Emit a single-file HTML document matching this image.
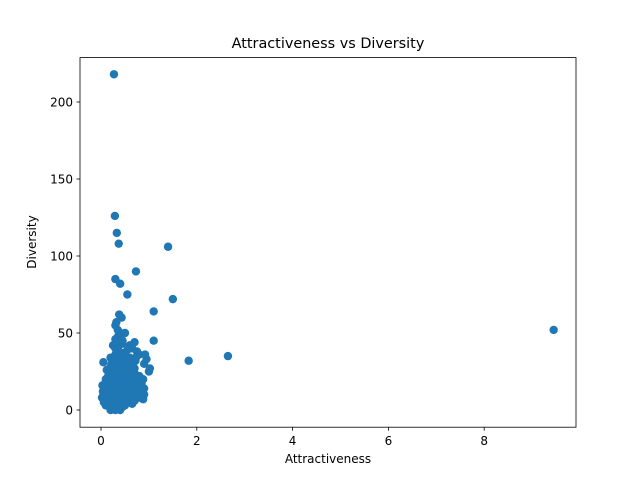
<!DOCTYPE html>
<html><head><meta charset="utf-8"><style>
body{margin:0;background:#fff;font-family:"Liberation Sans","DejaVu Sans",sans-serif}
svg text{font-family:"DejaVu Sans","Liberation Sans",sans-serif;font-size:12px;fill:#000}
</style></head><body>
<svg id="chart" width="640" height="480">
<rect width="640" height="480" fill="#fff"/>
<text x="328" y="48" text-anchor="middle" style="font-size:14.4px">Attractiveness vs Diversity</text>
<g id="marks"></g>
<rect x="80" y="57.6" width="496" height="369.6" fill="none" stroke="#000" stroke-width="0.8"/>
<g id="xt"></g>
<g id="yt"></g>
<text x="328" y="463" text-anchor="middle">Attractiveness</text>
<text transform="translate(36,242) rotate(-90)" text-anchor="middle">Diversity</text>
</svg>
<script>
const attractiveness=[0.27,0.29,0.33,0.37,1.4,0.3,0.4,0.73,0.55,1.5,1.1,0.38,0.43,1.1,1.83,2.65,9.45,0.05,
0.3,0.35,0.32,0.4,0.36,0.45,0.5,0.6,0.65,0.7,0.75,0.8,0.9,0.95,0.92,1.0,1.02,0.88,0.85,
0.02,0.04,0.06,0.08,0.1,0.12,0.15,0.18,0.2,0.22,0.25,0.28,0.3,0.33,0.36,0.4,0.45,0.5,0.55,0.6,0.65,0.7,0.75,0.8,0.85,
0.03,0.07,0.1,0.14,0.18,0.22,0.26,0.3,0.34,0.38,0.42,0.46,0.5,0.54,0.58,0.62,0.66,0.7,0.78,
0.12,0.16,0.2,0.24,0.28,0.32,0.36,0.4,0.44,0.48,0.52,0.56,0.6,0.64,0.68,0.72,0.8,0.9,
0.2,0.25,0.3,0.35,0.4,0.45,0.5,0.55,0.6,0.65,0.7,0.75,
0.25,0.3,0.35,0.4,0.45,0.5,0.55,0.6,0.65,0.68,0.28,0.34,0.42,0.48,0.3,0.36,0.44,0.2,0.5,0.62,
0.05,0.1,0.15,0.2,0.25,0.3,0.35,0.4,0.45,0.5,0.55,0.6,0.65,0.7,0.75,0.8,0.85,0.9,
0.08,0.13,0.18,0.23,0.28,0.33,0.38,0.43,0.48,0.53,0.58,0.63,0.68,0.73,0.78,0.83,
0.1,0.15,0.2,0.25,0.3,0.35,0.4,0.45,0.5,0.55,0.6,0.65,0.7,0.75,0.8,0.88,
0.22,0.27,0.32,0.37,0.42,0.47,0.52,0.57,0.62,0.67,0.72,0.22,0.3,0.38,0.46,0.54,0.62,0.7,0.78];
const diversity=[218,126,115,108,106,85,82,90,75,72,64,62,60,45,32,35,52,31,
55,52,57,50,48,45,50,42,40,44,38,36,30,33,36,25,27,7,18,
8,12,5,15,3,10,6,2,0,4,8,1,0,3,6,0,2,5,9,7,4,10,12,8,14,
16,6,18,13,20,14,22,11,17,24,15,19,21,16,13,18,15,20,16,
26,23,28,25,30,27,32,26,29,23,25,28,22,24,20,18,17,10,
34,32,36,38,35,33,30,28,33,31,27,35,
42,40,38,44,37,36,39,34,30,25,15,12,9,7,46,41,43,22,20,11,
10,8,12,7,9,5,4,6,8,3,11,13,9,6,10,12,9,14,
14,18,16,12,20,18,14,22,17,20,16,19,13,15,17,12,
20,22,19,24,21,26,28,25,23,20,22,26,24,21,22,20,
30,28,29,31,32,27,29,31,30,29,32,18,16,24,12,16,18,22,14];
const X=v=>101+v*47.9, Y=v=>410-v*1.54;
const NS="http://www.w3.org/2000/svg";
const g=document.getElementById('marks');
attractiveness.forEach((a,i)=>{const c=document.createElementNS(NS,'circle');
c.setAttribute('cx',X(a));c.setAttribute('cy',Y(diversity[i]));c.setAttribute('r',4.2);c.setAttribute('fill','#1f77b4');


g.appendChild(c);});
const xticks=[0,2,4,6,8], yticks=[0,50,100,150,200];
const xt=document.getElementById('xt'), yt=document.getElementById('yt');
xticks.forEach(v=>{const x=X(v);
const l=document.createElementNS(NS,'line');l.setAttribute('x1',x);l.setAttribute('x2',x);l.setAttribute('y1',427.2);l.setAttribute('y2',430.7);l.setAttribute('stroke','#000');l.setAttribute('stroke-width',0.8);


xt.appendChild(l);
const t=document.createElementNS(NS,'text');t.setAttribute('x',x);t.setAttribute('y',445);t.setAttribute('text-anchor','middle');t.textContent=v;


xt.appendChild(t);});
yticks.forEach(v=>{const y=Y(v);
const l=document.createElementNS(NS,'line');l.setAttribute('x1',76.5);l.setAttribute('x2',80);l.setAttribute('y1',y);l.setAttribute('y2',y);l.setAttribute('stroke','#000');l.setAttribute('stroke-width',0.8);


yt.appendChild(l);
const t=document.createElementNS(NS,'text');t.setAttribute('x',73);t.setAttribute('y',y+4.5);t.setAttribute('text-anchor','end');t.textContent=v;


yt.appendChild(t);});
</script>
</body></html>
